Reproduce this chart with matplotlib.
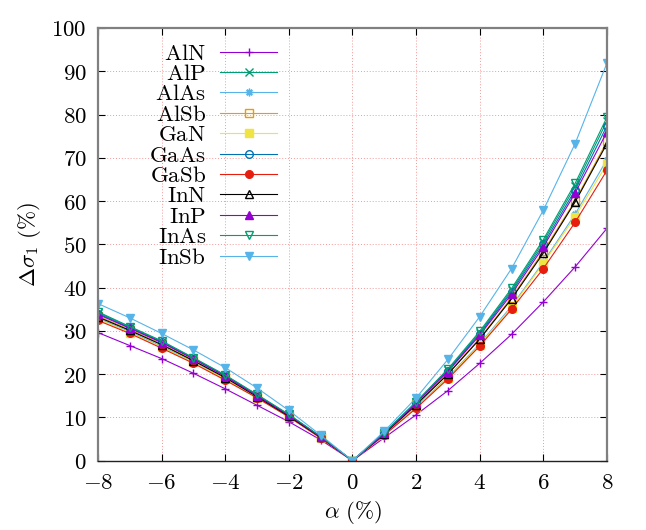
"""Relative change of sigma_1 versus strain alpha for eleven III-V compounds."""

import matplotlib
matplotlib.use("Agg")
import matplotlib.pyplot as plt
from matplotlib.ticker import FuncFormatter, MultipleLocator

plt.rcParams["mathtext.fontset"] = "cm"
plt.rcParams["font.family"] = "serif"
plt.rcParams["font.serif"] = ["DejaVu Serif"]

alpha = [-8, -7, -6, -5, -4, -3, -2, -1, 0, 1, 2, 3, 4, 5, 6, 7, 8]

materials = ["AlN", "AlP", "AlAs", "AlSb", "GaN", "GaAs", "GaSb",
             "InN", "InP", "InAs", "InSb"]

aln = [29.6, 26.6, 23.6, 20.2, 16.6, 12.8, 9.0, 4.8, 0, 5.3, 10.6, 16.2, 22.5, 29.2, 36.7, 44.8, 53.7]
alp = [34.2, 30.9, 27.5, 23.7, 19.7, 15.2, 10.6, 5.5, 0, 6.4, 13.5, 21.0, 29.6, 39.4, 50.6, 63.4, 78.5]
alas = [32.9, 29.8, 26.4, 22.8, 18.9, 14.6, 10.2, 5.3, 0, 6.0, 12.4, 19.3, 27.0, 35.7, 45.9, 57.0, 69.6]
alsb = [33.4, 30.3, 27.0, 23.2, 19.3, 14.9, 10.4, 5.4, 0, 6.2, 13.0, 20.1, 28.3, 37.7, 48.4, 60.1, 73.8]
gan = [32.7, 29.6, 26.2, 22.7, 18.8, 14.6, 10.1, 5.3, 0, 6.0, 12.3, 19.1, 26.8, 35.4, 45.6, 56.4, 68.6]
gaas = [34.0, 30.7, 27.4, 23.6, 19.6, 15.1, 10.5, 5.5, 0, 6.4, 13.4, 20.8, 29.3, 39.0, 50.0, 62.6, 77.4]
gasb = [32.4, 29.4, 26.0, 22.5, 18.6, 14.5, 10.1, 5.2, 0, 5.9, 12.1, 18.9, 26.5, 35.0, 44.4, 55.1, 67.1]
inn = [33.2, 30.1, 26.8, 23.1, 19.2, 14.8, 10.3, 5.4, 0, 6.2, 12.9, 20.0, 28.1, 37.4, 48.0, 59.8, 73.3]
inp = [33.8, 30.6, 27.3, 23.5, 19.5, 15.0, 10.5, 5.5, 0, 6.3, 13.3, 20.6, 29.0, 38.5, 49.4, 61.9, 76.0]
inas = [34.4, 31.0, 27.7, 23.8, 19.8, 15.3, 10.7, 5.6, 0, 6.5, 13.6, 21.2, 29.9, 39.8, 51.1, 64.1, 79.4]
insb = [36.3, 33.0, 29.4, 25.6, 21.5, 16.8, 11.6, 5.9, 0, 6.8, 14.5, 23.4, 33.3, 44.4, 57.9, 73.3, 91.9]

series = [aln, alp, alas, alsb, gan, gaas, gasb, inn, inp, inas, insb]

# gnuplot default line colours and point types
colors = ["#9400d3", "#009e73", "#56b4e9", "#e69f00", "#f0e442", "#0072b2",
          "#e51e10", "#000000", "#9400d3", "#009e73", "#56b4e9"]
markers = ["+", "x", (8, 2, 0), "s", "s", "o", "o", "^", "^", "v", "v"]
filled = [True, True, True, False, True, False, True, False, True, False, True]

FONT = 16.5

fig = plt.figure(figsize=(6.46, 5.30), dpi=100)
ax = fig.add_axes([0.1517, 0.1308, 0.7879, 0.8164])

for name, values, color, marker, fill in zip(materials, series, colors, markers, filled):
    ax.plot(
        alpha,
        values,
        color=color,
        linewidth=0.8,
        marker=marker,
        markersize=5.5,
        markeredgewidth=1.0,
        markerfacecolor=color if fill else "none",
        markeredgecolor=color,
        label=rf"$\mathrm{{{name}}}$",
    )

ax.set_xlim(-8, 8)
ax.set_ylim(0, 100)
ax.xaxis.set_major_locator(MultipleLocator(2))
ax.yaxis.set_major_locator(MultipleLocator(10))
math_fmt = FuncFormatter(lambda v, pos: rf"${v:g}$")
ax.xaxis.set_major_formatter(math_fmt)
ax.yaxis.set_major_formatter(math_fmt)
ax.tick_params(direction="in", top=True, right=True, length=5, width=0.8,
               labelsize=FONT, pad=8)

ax.grid(True, color="#f08080", linestyle=(0, (1, 2)), linewidth=0.7, alpha=0.8)
for side in ("left", "right", "top"):
    ax.spines[side].set_color("#808080")
    ax.spines[side].set_linewidth(1.6)
ax.spines["bottom"].set_color("#222222")
ax.spines["bottom"].set_linewidth(1.0)

ax.set_xlabel(r"$\alpha\ (\%)$", fontsize=FONT, labelpad=4)
ax.set_ylabel(r"$\Delta\sigma_1\ (\%)$", fontsize=FONT, labelpad=6)

ax.legend(
    loc="upper right",
    bbox_to_anchor=(0.352, 0.966),
    frameon=False,
    markerfirst=False,
    fontsize=FONT,
    handlelength=2.5,
    handletextpad=0.6,
    labelspacing=-0.07,
    borderpad=0,
    borderaxespad=0,
    numpoints=1,
)

fig.savefig("out.png", dpi=100)
